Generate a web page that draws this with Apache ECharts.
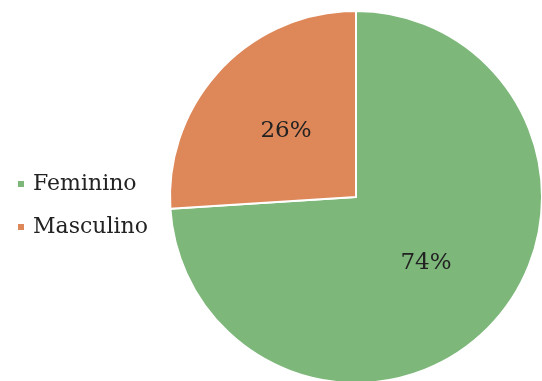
<!DOCTYPE html>
<html><head><meta charset="utf-8">
<script src="https://cdn.jsdelivr.net/npm/echarts@6/dist/echarts.min.js"></script>
<style>html,body{margin:0;padding:0;background:#fff}#c{width:542px;height:381px}</style>
</head><body><div id="c"></div>
<script>
const categories = ["Feminino", "Masculino"];
const values = [74, 26];
const colors = ["#7db77a", "#de8759"];
const chart = echarts.init(document.getElementById('c'));
chart.setOption({
  animation: false,
  color: colors,
  legend: {
    orient: 'vertical', left: 11, top: 167, itemWidth: 8, itemHeight: 8, itemGap: 19,
    icon: 'rect',
    textStyle: { fontFamily: 'DejaVu Serif', fontSize: 22, lineHeight: 24, color: '#222', padding: [0, 0, 0, 3] },
    data: categories
  },
  series: [{
    type: 'pie', center: [356, 197], radius: 186, startAngle: 90, clockwise: true,
    itemStyle: { borderColor: '#fff', borderWidth: 2 },
    label: { position: 'inside', formatter: '{d}%', fontFamily: 'DejaVu Serif', fontSize: 23, color: '#222' },
    labelLine: { show: false },
    data: categories.map((c, i) => ({ name: c, value: values[i] }))
  }]
});
</script></body></html>
